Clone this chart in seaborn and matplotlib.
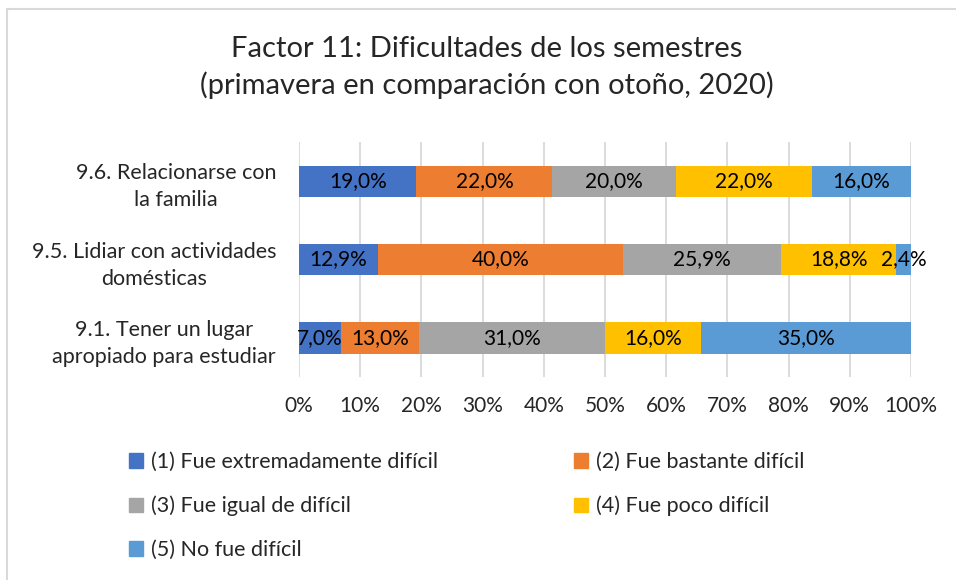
import matplotlib
matplotlib.use("Agg")
import matplotlib.pyplot as plt
import matplotlib.patches as mpatches
import pandas as pd
import seaborn as sns

categories = ["9.6. Relacionarse con\nla familia",
              "9.5. Lidiar con actividades\ndomésticas",
              "9.1. Tener un lugar\napropiado para estudiar"]
series = ["(1) Fue extremadamente difícil", "(2) Fue bastante difícil",
          "(3) Fue igual de difícil", "(4) Fue poco difícil", "(5) No fue difícil"]
s1 = [19.0, 12.9, 7.0]
s2 = [22.0, 40.0, 13.0]
s3 = [20.0, 25.9, 31.0]
s4 = [22.0, 18.8, 16.0]
s5 = [16.0, 2.4, 35.0]
xticks = [0, 10, 20, 30, 40, 50, 60, 70, 80, 90, 100]
colors = ["#4472C4", "#ED7D31", "#A5A5A5", "#FFC000", "#5B9BD5"]

sns.set_style("white")
plt.rcParams['font.family'] = ['Lato', 'DejaVu Sans']

df = pd.DataFrame({"cat": categories})
vals = [s1, s2, s3, s4, s5]
for name, v in zip(series, vals):
    df[name] = v
tot = df[series].sum(axis=1)
pct = df[series].div(tot, axis=0) * 100
cum = pct.cumsum(axis=1)

fig = plt.figure(figsize=(9.56, 5.8), dpi=100)
ax = fig.add_axes([299/956, 1-377/580, 612/956, 235/580])

# stacked bars: draw cumulative totals from the widest down
for i in range(len(series) - 1, -1, -1):
    sns.barplot(x=cum[series[i]], y=df["cat"], orient="h", color=colors[i],
                width=0.4, linewidth=0, saturation=1, ax=ax, zorder=2)

for i, name in enumerate(series):
    for j in range(len(categories)):
        mid = cum[name][j] - pct[name][j] / 2
        txt = f"{df[name][j]:.1f}".replace(".", ",") + "%"
        ax.text(mid, j, txt, ha="center", va="center", fontsize=15,
                color="#000000", zorder=3)

ax.set_xlim(0, 100)
ax.set_ylim(2.5, -0.5)
ax.set_xticks(xticks)
ax.set_xticklabels([f"{t}%" for t in xticks])
ax.xaxis.grid(True, color="#D9D9D9", lw=1.3, zorder=0)
ax.set_axisbelow(True)
for sp in ax.spines.values():
    sp.set_visible(False)
ax.set_xlabel("")
ax.set_ylabel("")
ax.tick_params(axis="x", length=0, pad=14, labelsize=15)
ax.tick_params(axis="y", length=0, pad=16.5, labelsize=15.5)
for lab in ax.get_yticklabels():
    lab.set_multialignment("center")
    lab.set_linespacing(1.45)

fig.text(487/956, 1-49/580, "Factor 11: Dificultades de los semestres",
         ha="center", va="center", fontsize=21)
fig.text(487/956, 1-85/580, "(primavera en comparación con otoño, 2020)",
         ha="center", va="center", fontsize=21)

handles = [mpatches.Patch(color=c, label=s) for c, s in zip(colors, series)]
order = [0, 2, 4, 1, 3]
fig.legend([handles[k] for k in order], [series[k] for k in order],
           ncol=2, frameon=False, loc="upper left",
           bbox_to_anchor=(129/956, 1-452/580), fontsize=15.5,
           handlelength=0.65, handleheight=0.65, handletextpad=0.35,
           labelspacing=1.1, columnspacing=6.35, borderpad=0, borderaxespad=0)

fig.patches.append(mpatches.Rectangle((7/956, -0.1), 1.2, 1.1 - 9/580,
                                      transform=fig.transFigure, fill=False,
                                      edgecolor="#D9D9D9", lw=1.5))

fig.savefig("out.png", dpi=100)
